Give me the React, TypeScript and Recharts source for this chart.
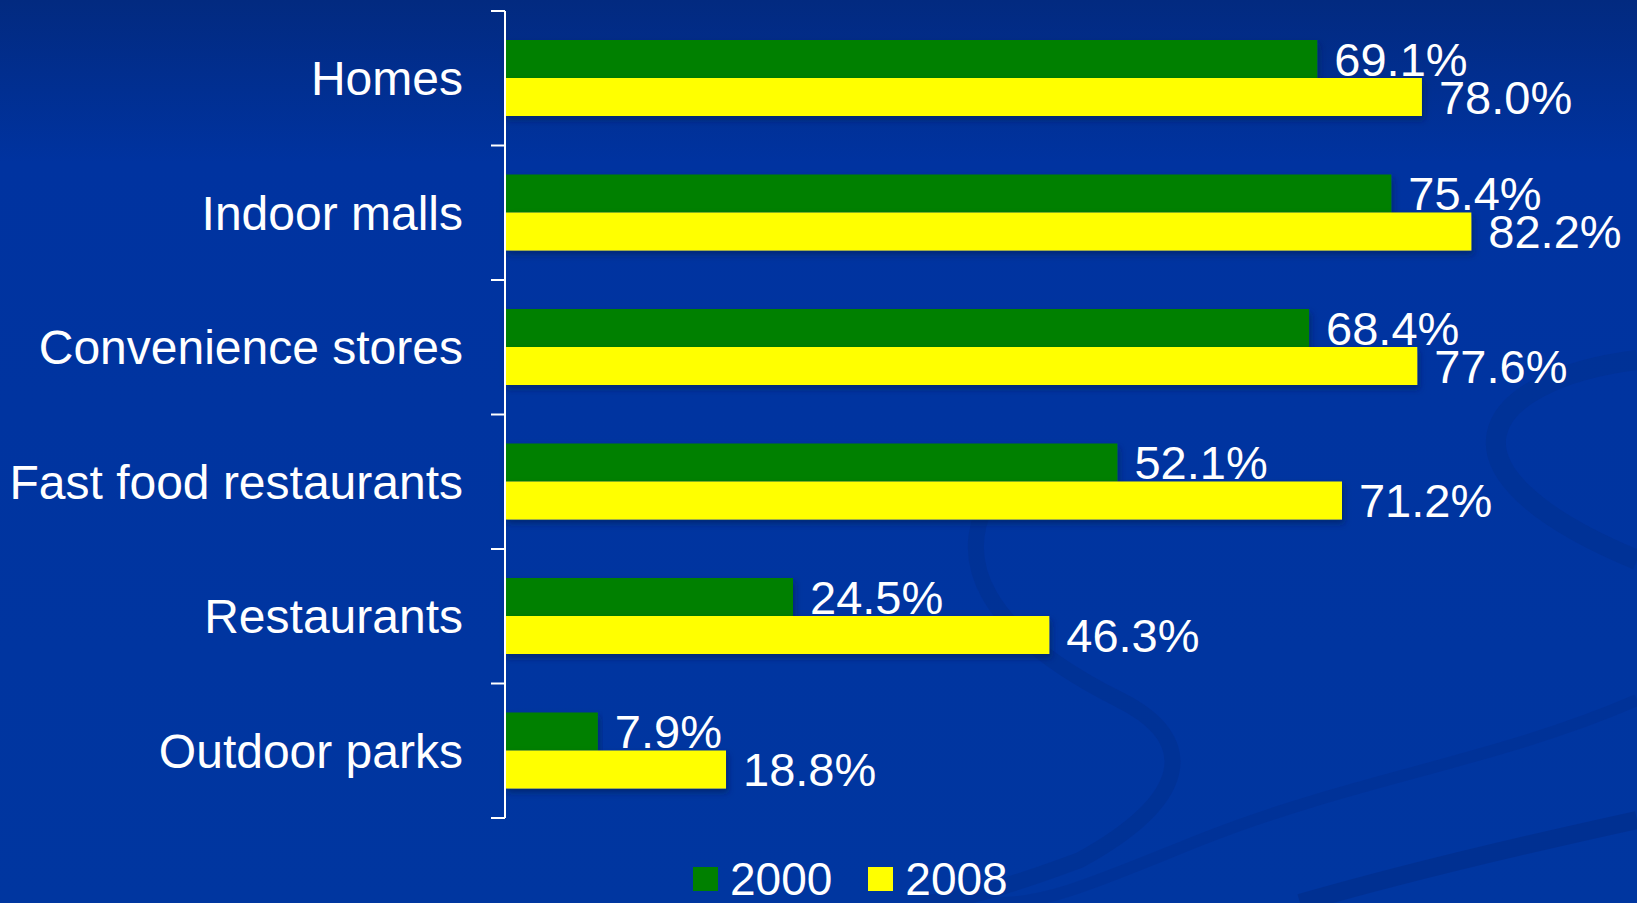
import React from 'react'
import { BarChart, Bar, XAxis, YAxis, LabelList } from 'recharts'

const categories = [
  'Homes',
  'Indoor malls',
  'Convenience stores',
  'Fast food restaurants',
  'Restaurants',
  'Outdoor parks',
]
const values2000 = [69.1, 75.4, 68.4, 52.1, 24.5, 7.9]
const values2008 = [78.0, 82.2, 77.6, 71.2, 46.3, 18.8]

const data = categories.map((name, i) => ({
  name,
  y2000: values2000[i],
  y2008: values2008[i],
}))

const FONT = '"Liberation Sans", Arial, sans-serif'
const GREEN = '#008000'
const YELLOW = '#FFFF00'

const series = [
  { key: 'y2000', name: '2000', color: GREEN },
  { key: 'y2008', name: '2008', color: YELLOW },
]

function CategoryTick(props: any) {
  const { x, y, payload, height, index, visibleTicksCount } = props
  const half = height / visibleTicksCount / 2
  const axisX = x + 42
  const isLast = index === visibleTicksCount - 1
  return (
    <g>
      <line x1={axisX - 14} x2={axisX} y1={y - half} y2={y - half} stroke="#fff" strokeWidth={2} />
      {isLast && (
        <line x1={axisX - 14} x2={axisX} y1={y + half} y2={y + half} stroke="#fff" strokeWidth={2} />
      )}
      <text x={x} y={y} dy="0.355em" textAnchor="end" fill="#fff" fontSize={48} fontFamily={FONT}>
        {payload.value}
      </text>
    </g>
  )
}

function ChartLegend() {
  return (
    <div
      style={{
        position: 'absolute',
        left: 693,
        top: 856,
        display: 'flex',
        alignItems: 'center',
        fontFamily: FONT,
        fontSize: 46,
        lineHeight: '46px',
        color: '#fff',
      }}
    >
      {series.map((s, i) => (
        <div key={s.key} style={{ display: 'flex', alignItems: 'center', marginLeft: i === 0 ? 0 : 36 }}>
          <span style={{ display: 'inline-block', width: 25, height: 24, background: s.color, marginRight: 12 }} />
          <span>{s.name}</span>
        </div>
      ))}
    </div>
  )
}

export default function App() {
  return (
    <div
      style={{
        position: 'absolute',
        left: 0,
        top: 0,
        width: 1637,
        height: 903,
        overflow: 'hidden',
        background: 'linear-gradient(180deg, #022a80 0%, #0033a0 18%, #0036a0 100%)',
      }}
    >
      <svg width={1637} height={903} style={{ position: 'absolute', left: 0, top: 0 }}>
        <path d="M 1010 470 C 930 560, 1000 640, 1120 700 C 1200 740, 1190 800, 1080 860 C 1000 890, 950 903, 920 903" fill="none" stroke="#002f8e" strokeWidth={16} opacity={0.55} />
        <path d="M 1637 360 C 1480 380, 1420 470, 1637 560" fill="none" stroke="#002f8e" strokeWidth={20} opacity={0.5} />
        <path d="M 1637 700 C 1500 760, 1350 780, 1200 840 C 1100 880, 1050 903, 1000 903" fill="none" stroke="#002f8e" strokeWidth={12} opacity={0.45} />
        <path d="M 1637 820 C 1500 850, 1380 880, 1300 903" fill="none" stroke="#002c86" strokeWidth={18} opacity={0.55} />
      </svg>
      <BarChart
        width={1637}
        height={903}
        data={data}
        layout="vertical"
        margin={{ top: 11, right: 74, bottom: 85, left: 0 }}
        barGap={0}
        barCategoryGap="21.5%"
        style={{ position: 'absolute', left: 0, top: 0 }}
      >
        <defs>
          <filter id="barShadow" x="-5%" y="-20%" width="110%" height="160%">
            <feDropShadow dx="2" dy="4" stdDeviation="3" floodColor="#001a50" floodOpacity="0.55" />
          </filter>
        </defs>
        <XAxis type="number" domain={[0, 90]} hide />
        <YAxis
          type="category"
          dataKey="name"
          width={505}
          axisLine={{ stroke: '#fff', strokeWidth: 2 }}
          tickLine={false}
          tickSize={14}
          tickMargin={28}
          tick={<CategoryTick />}
          interval={0}
        />
        {series.map((s) => (
          <Bar
            key={s.key}
            dataKey={s.key}
            name={s.name}
            fill={s.color}
            isAnimationActive={false}
            style={{ filter: 'url(#barShadow)' }}
          >
            <LabelList
              dataKey={s.key}
              position="right"
              offset={17}
              fill="#fff"
              fontSize={47}
              fontFamily={FONT}
              formatter={(v: any) => `${Number(v).toFixed(1)}%`}
            />
          </Bar>
        ))}
      </BarChart>
      <ChartLegend />
    </div>
  )
}
